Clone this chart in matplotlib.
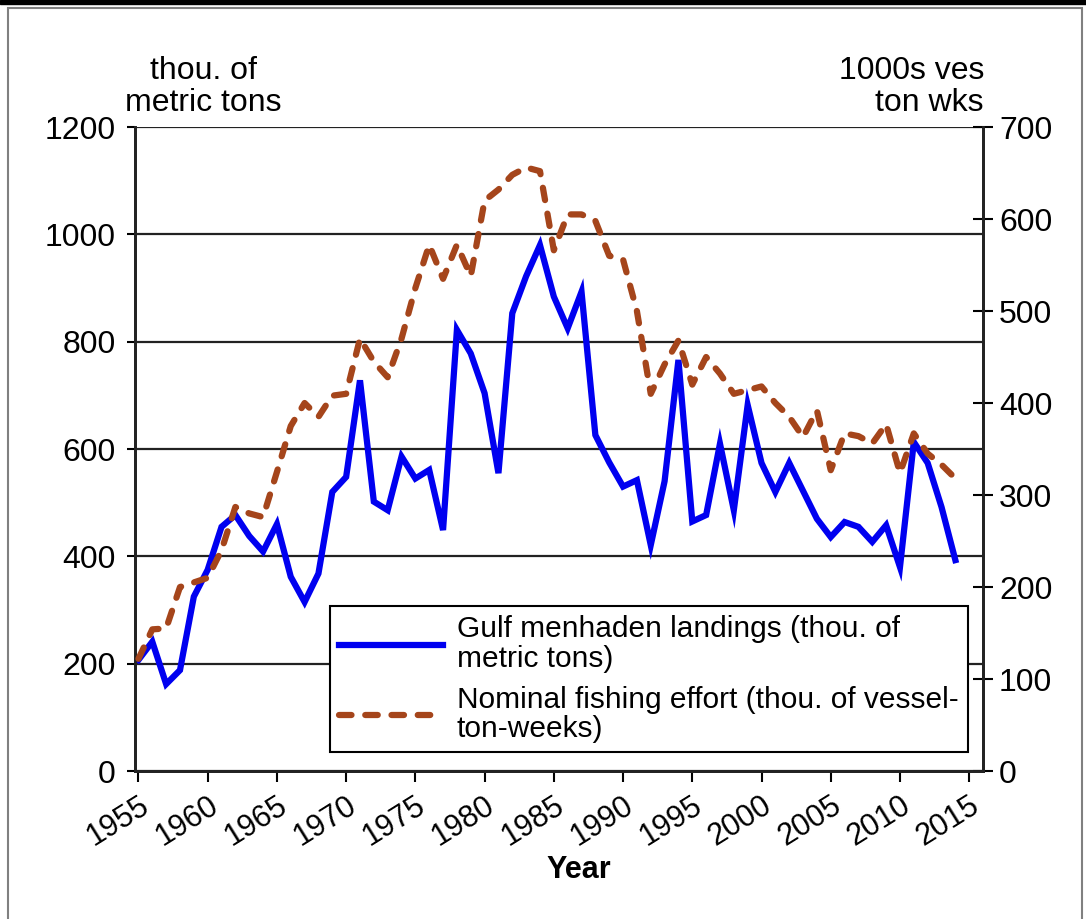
import matplotlib.pyplot as plt
from matplotlib.patches import Rectangle

plt.rcParams['font.family'] = ['Liberation Sans', 'DejaVu Sans']

# Gulf menhaden landings and nominal effort, 1955-2014
years = list(range(1955, 2015))
landings = [207, 241, 162, 188, 325, 375, 455, 477, 438, 409,
            460, 362, 315, 368, 520, 548, 728, 502, 486, 586,
            545, 561, 449, 822, 778, 704, 555, 853, 922, 980,
            884, 825, 893, 626, 575, 530, 542, 421, 540, 766,
            465, 477, 610, 486, 682, 574, 520, 574, 522, 470,
            436, 464, 455, 427, 458, 380, 613, 574, 492, 393]
effort = [122, 154, 155, 200, 205, 210, 240, 287, 280, 276,
          325, 375, 400, 385, 408, 410, 470, 445, 428, 470,
          525, 572, 535, 572, 538, 620, 632, 648, 656, 652,
          566, 605, 605, 598, 560, 556, 500, 410, 442, 468,
          420, 450, 432, 410, 414, 418, 400, 385, 363, 392,
          327, 367, 364, 356, 377, 324, 367, 345, 333, 318]
xticks = list(range(1955, 2020, 5))

fig = plt.figure(figsize=(10.86, 9.19), dpi=100)
ax = fig.add_axes([0.1243, 0.1610, 0.7809, 0.7008])
ax2 = ax.twinx()

# outer frame of the chart
fig.patches.append(Rectangle((8 / 1086, -0.01), 1074 / 1086, 1 - 8 / 919 + 0.01,
                             transform=fig.transFigure, fill=False,
                             edgecolor='#808080', linewidth=1.5))
fig.patches.append(Rectangle((0, 1 - 4 / 919), 1, 4 / 919, transform=fig.transFigure,
                             color='black'))

blue, = ax.plot(years, landings, color='#0000F0', linewidth=4.5, zorder=3,
                solid_joinstyle='miter')
brown, = ax2.plot(years, effort, color='#A5451B', linewidth=4.5,
                  dashes=(2.0, 2.2), dash_capstyle='round', zorder=3)

ax.set_xlim(1954.75, 2016)
ax.set_ylim(0, 1200)
ax2.set_ylim(0, 700)
ax.set_yticks(range(0, 1201, 200))
ax2.set_yticks(range(0, 701, 100))
ax.set_xticks(xticks)
ax.set_xticklabels([str(y) for y in xticks], rotation=32, ha='right',
                   rotation_mode='anchor', fontsize=22)
ax.tick_params(axis='y', labelsize=23, direction='out', length=6, width=1.5, pad=8)
ax.tick_params(axis='x', direction='out', length=8, width=1.5, pad=6)
ax2.tick_params(axis='y', labelsize=23, direction='inout', length=15, width=1.5, pad=4)

ax.grid(axis='y', color='#222222', linewidth=1.6)
ax.set_axisbelow(True)
for a in (ax, ax2):
    a.spines['top'].set_visible(False)
    for s in ('left', 'right', 'bottom'):
        a.spines[s].set_linewidth(2)
        a.spines[s].set_color('#222222')

fig.text(0.187, 0.905, 'thou. of\nmetric tons', ha='center', va='center',
         fontsize=23, linespacing=1.1)
fig.text(0.906, 0.905, '1000s ves\nton wks', ha='right', va='center',
         fontsize=23, linespacing=1.1)
fig.text(0.533, 0.053, 'Year', ha='center', va='center', fontsize=22,
         fontweight='bold')

leg = ax2.legend([blue, brown],
                 ['Gulf menhaden landings (thou. of\nmetric tons)',
                  'Nominal fishing effort (thou. of vessel-\nton-weeks)'],
                 loc='lower left', bbox_to_anchor=(330 / 1086, 1 - 752 / 919),
                 bbox_transform=fig.transFigure, fontsize=21.5, frameon=True,
                 fancybox=False, edgecolor='black', framealpha=1,
                 handlelength=3.5, borderaxespad=0, borderpad=0.3,
                 labelspacing=0.45, handletextpad=0.45)
leg.get_frame().set_linewidth(1.5)
leg.set_zorder(5)
for t in leg.get_texts():
    t.set_linespacing(1.05)

fig.savefig('out.png', dpi=100)
